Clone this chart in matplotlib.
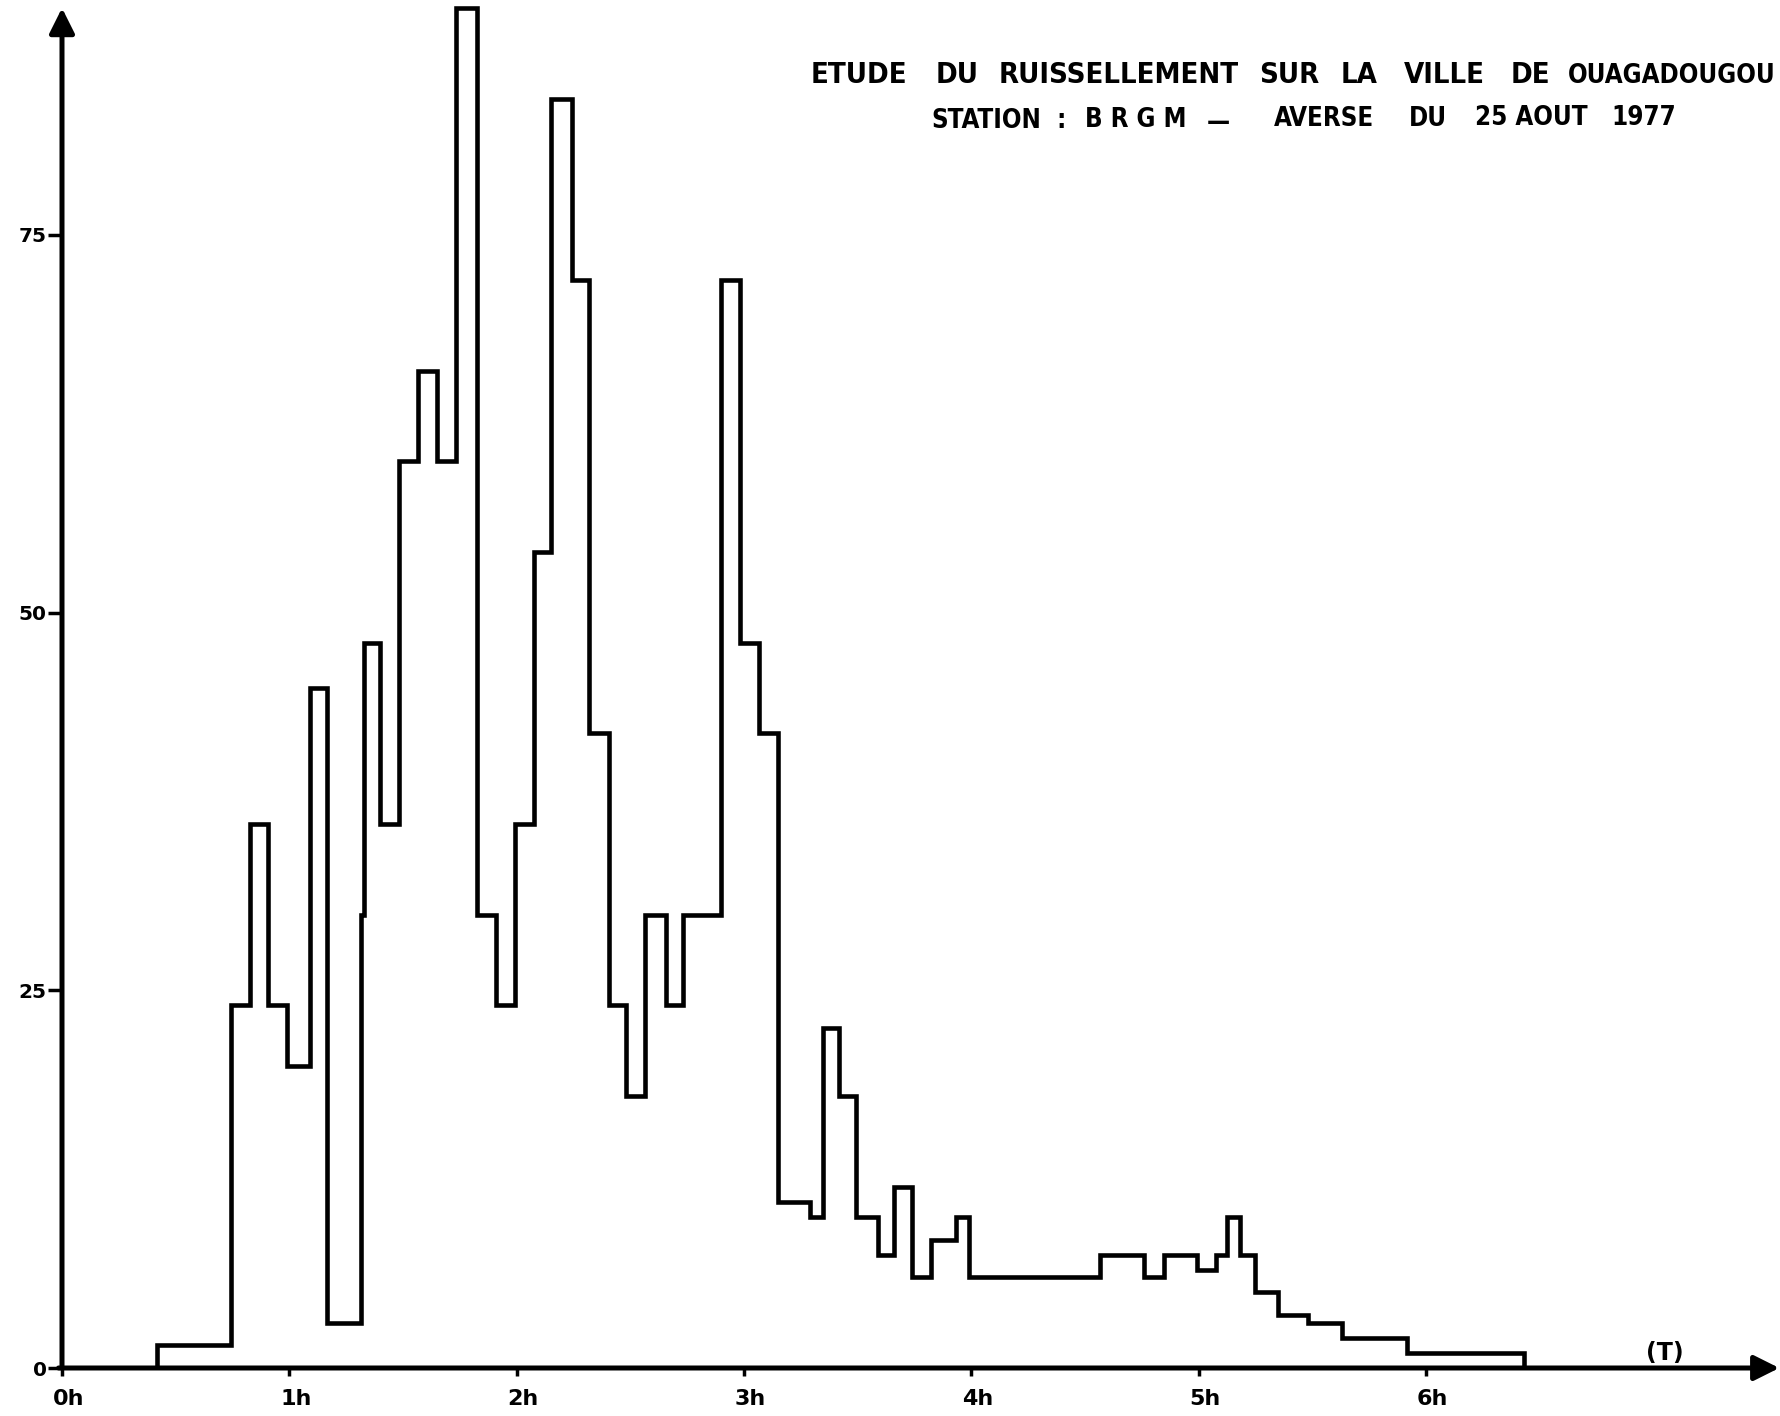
import matplotlib
matplotlib.use("Agg")
import matplotlib.pyplot as plt
import matplotlib.transforms as mtransforms

# ---- data (time in minutes from 0h, runoff intensity) ----
edges_min = [25, 44.5, 49.5, 54.5, 59.5, 65.5, 70, 79, 79.7, 84, 89, 94, 99, 104,
             109.5, 114.5, 119.5, 124.5, 129, 134.5, 139, 144.5, 149, 154, 159.5,
             164, 174, 179, 184, 189, 197.5, 201, 205, 209.5, 215.5, 219.5, 224.5,
             229.5, 236, 239.5, 274, 285.5, 291, 299.5, 304.5, 307.5, 311, 315,
             321, 329, 338, 355, 386]
values = [1.5, 24, 36, 24, 20, 45, 3, 30, 48, 36, 60, 66, 60, 90, 30, 24, 36,
          54, 84, 72, 42, 24, 18, 30, 24, 30, 72, 48, 42, 11, 10, 22.5, 18, 10,
          7.5, 12, 6, 8.5, 10, 6, 7.5, 6, 7.5, 6.5, 7.5, 10, 7.5, 5, 3.5, 3, 2, 1]

xtick_pos = [0, 60, 120, 180, 240, 300, 360]
xtick_labels = ["0h", "1h", "2h", "3h", "4h", "5h", "6h"]
ytick_pos = [0, 25, 50, 75]
ytick_labels = ["0", "25", "50", "75"]

title_words = ["ETUDE", "DU", "RUISSELLEMENT", "SUR", "LA", "VILLE", "DE", "OUAGADOUGOU"]
subtitle_words = ["STATION", ":", "B R G M", "—", "AVERSE", "DU", "25 AOUT", "1977"]

W, H = 1781, 1416
fig = plt.figure(figsize=(W / 100, H / 100), dpi=100)
fig.patch.set_facecolor("white")

x0_px, y0_px = 62, 1368
top_px = 8
ax = fig.add_axes([x0_px / W, (H - y0_px) / H, 1 - x0_px / W, (y0_px - top_px) / H])
px_per_min = 227.3 / 60
px_per_unit = 15.11
ax.set_xlim(0, (W - x0_px) / px_per_min)
ax.set_ylim(0, (y0_px - top_px) / px_per_unit)
for s in ax.spines.values():
    s.set_visible(False)
ax.set_facecolor("white")

ax.stairs(values, edges_min, baseline=0, fill=False, color="black",
          linewidth=3.3, joinstyle="miter", clip_on=False)

# axes arrows
arrow_kw = dict(arrowstyle="-|>", lw=3.6, color="black", mutation_scale=38,
                shrinkA=0, shrinkB=0)
ax.annotate("", xy=(0, 1.0), xytext=(0, 0), xycoords="axes fraction",
            arrowprops=arrow_kw, annotation_clip=False)
ax.annotate("", xy=(0.999, 0), xytext=(-0.002, 0), xycoords="axes fraction",
            arrowprops=arrow_kw, annotation_clip=False)

ax.set_xticks(xtick_pos)
ax.set_xticklabels(xtick_labels, fontsize=16, fontweight="bold", ha="left")
ax.set_yticks(ytick_pos)
ax.set_yticklabels(ytick_labels, fontsize=14.5, fontweight="bold")
ax.tick_params(axis="x", direction="out", length=6, width=2.5, pad=9)
ax.tick_params(axis="y", direction="out", length=10, width=2.5, pad=1)
offset = mtransforms.ScaledTranslation(-9 / 100, 0, fig.dpi_scale_trans)
for lab in ax.get_xticklabels():
    lab.set_transform(lab.get_transform() + offset)

ax.text(423, 1.0, "(T)", fontsize=17, fontweight="bold", ha="center", va="center")

cond = dict(family=["DejaVu Sans"], fontstretch="condensed", fontweight="bold")

# title words: centre x (px) in the reference, baseline at y=83 px
title_x = [859, 957, 1119, 1289, 1359, 1444, 1530, 1568]
for wd, xc in zip(title_words, title_x):
    if wd == "OUAGADOUGOU":
        fig.text(xc / W, 1 - 83 / H, wd, fontsize=18.5, ha="left", va="baseline", **cond)
    else:
        fig.text(xc / W, 1 - 83 / H, wd, fontsize=21, ha="center", va="baseline", **cond)

sub_x = [986, 1061, 1136, 1218, 1324, 1428, 1531, 1644]
sub_base = [128, 128, 127, 130, 126, 125.5, 125, 125]
for wd, xc, yb in zip(subtitle_words, sub_x, sub_base):
    fig.text(xc / W, 1 - yb / H, wd, fontsize=18.5, ha="center", va="baseline", **cond)

fig.savefig("out.png", dpi=100, facecolor="white")
